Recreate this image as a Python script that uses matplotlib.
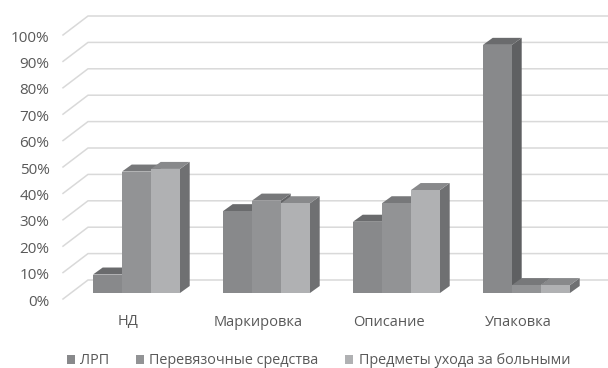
import matplotlib
matplotlib.use('Agg')
import matplotlib.pyplot as plt
from matplotlib.patches import Patch

plt.rcParams['font.family'] = ['Open Sans', 'DejaVu Sans']

# данные диаграммы
categories = ['НД', 'Маркировка', 'Описание', 'Упаковка']
series_names = ['ЛРП', 'Перевязочные средства', 'Предметы ухода за больными']
lrp = [7, 31, 27, 94]
dressings = [46, 35, 34, 3]
care_items = [47, 34, 39, 3]
y_ticks = [0, 10, 20, 30, 40, 50, 60, 70, 80, 90, 100]

# оформление
front_colors = ['#88898b', '#929395', '#b0b1b3']
top_colors = ['#6a6b6d', '#77787a', '#88898b']
side_colors = ['#5f6062', '#636466', '#6f7072']
grid_color = '#d9d9d9'
text_color = '#595959'

# масштаб: 130 пикселей на категорию, 2.64 пикселя на процент
px_x = 1 / 130
px_y = 1 / 2.64
bar_w = 29 * px_x
depth_x = 9.7 * px_x
depth_y = 7 * px_y

fig = plt.figure(figsize=(6.08, 3.68), dpi=100)
ax = fig.add_axes([0, 0, 1, 1])
ax.set_xlim(-136.5 * px_x, 471.5 * px_x)
ax.set_ylim(-75 * px_y, 293 * px_y)
ax.axis('off')

# сетка на задней стенке и скос к подписям оси
wall_x0 = -73.5 * px_x
wall_x1 = -48.5 * px_x
slant_y = 19 * px_y
front_shift = -6 * px_y
for t in y_ticks:
    y0 = t + front_shift
    ax.plot([wall_x0, wall_x1, ax.get_xlim()[1]], [y0, y0 + slant_y, y0 + slant_y],
            color=grid_color, lw=1.1, zorder=1, solid_joinstyle='miter')
    ax.text(-87 * px_x, y0 - 3 * px_y, f'{t}%', ha='right', va='center',
            fontsize=11, color=text_color, zorder=5)

# столбцы: передняя грань, верх и правый бок
series = [lrp, dressings, care_items]
z = 2
for c in range(len(categories)):
    for s, values in enumerate(series):
        v = values[c]
        x0 = c + (s - 1) * bar_w - bar_w / 2
        x1 = x0 + bar_w
        ax.fill([x1, x1 + depth_x, x1 + depth_x, x1],
                [0, depth_y, v + depth_y, v], color=side_colors[s], lw=0, zorder=z)
        ax.fill([x0, x1, x1 + depth_x, x0 + depth_x],
                [v, v, v + depth_y, v + depth_y], color=top_colors[s], lw=0, zorder=z)
        ax.bar(c + (s - 1) * bar_w, v, width=bar_w, color=front_colors[s], lw=0, zorder=z)
        z += 1

for c, name in enumerate(categories):
    ax.text(c - 8 * px_x, -29 * px_y, name, ha='center', va='center',
            fontsize=10.5, color=text_color, zorder=5)

handles = [Patch(facecolor=front_colors[i], edgecolor='none') for i in range(3)]
ax.legend(handles, series_names, loc='center left', bbox_to_anchor=(67 / 608, 1 - 361 / 368),
          ncol=3, frameon=False, fontsize=10.4, labelcolor=text_color,
          handlelength=0.56, handleheight=0.6, handletextpad=0.36, columnspacing=1.85,
          borderaxespad=0, borderpad=0)

plt.savefig('out.png', dpi=100)
plt.close()
